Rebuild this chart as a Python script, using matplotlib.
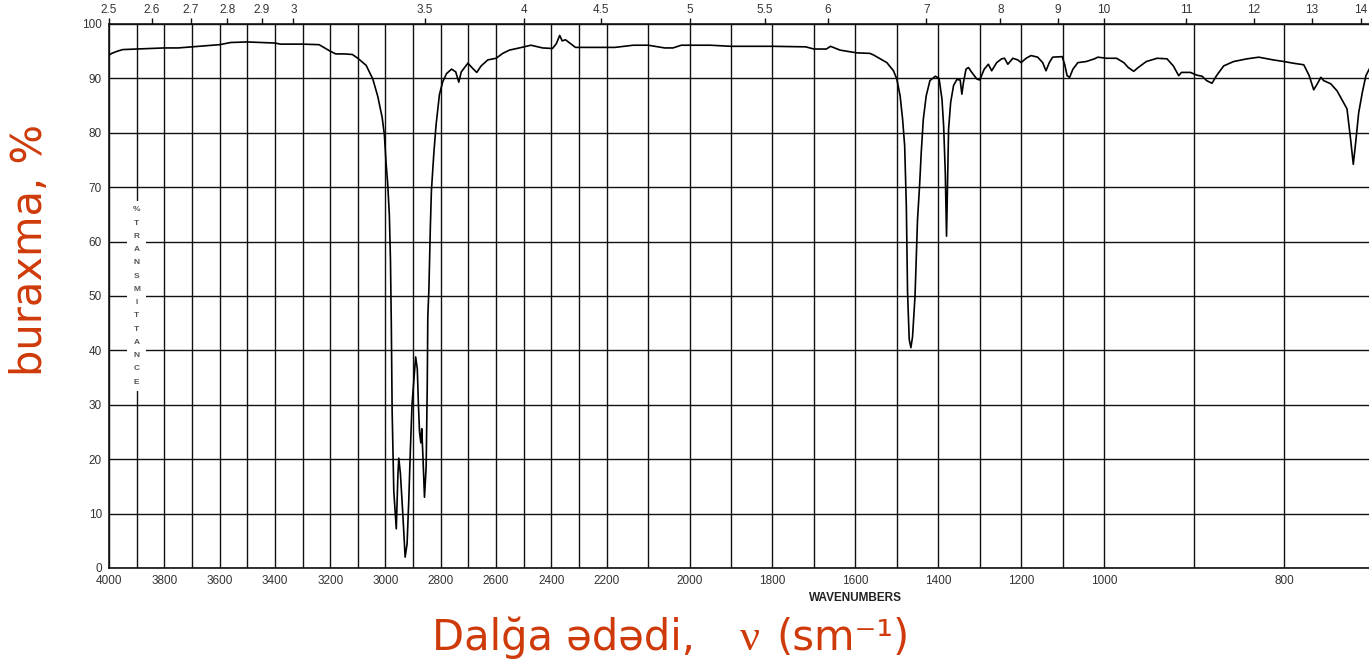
import numpy as np
import matplotlib.pyplot as plt

# spectrum (wavenumber cm-1, % transmittance)
wavenumber = [4000, 3990, 3970, 3950, 3900, 3850, 3800, 3750, 3700, 3650, 3600, 3560,
              3500, 3450, 3400, 3380, 3300, 3240, 3220, 3200, 3180, 3150, 3120, 3100,
              3070, 3046, 3028, 3012, 3004, 2998, 2992, 2986, 2982, 2979, 2976, 2970,
              2961, 2955, 2952, 2946, 2937, 2929, 2922, 2916, 2910, 2904, 2899, 2891,
              2885, 2881, 2877, 2872, 2869, 2865, 2859, 2853, 2849, 2847, 2843, 2838,
              2834, 2825, 2817, 2805, 2793, 2779, 2761, 2746, 2735, 2726, 2702, 2684,
              2670, 2654, 2630, 2600, 2576, 2552, 2516, 2474, 2432, 2396, 2382, 2370,
              2361, 2349, 2331, 2313, 2250, 2180, 2136, 2100, 2060, 2040, 2020, 1950,
              1900, 1800, 1720, 1700, 1670, 1660, 1637, 1597, 1565, 1556, 1540, 1524,
              1508, 1500, 1492, 1486, 1481, 1477, 1474, 1470, 1466, 1462, 1456, 1453,
              1450, 1445, 1441, 1436, 1429, 1420, 1407, 1398, 1391, 1387, 1383, 1380,
              1378, 1375, 1370, 1363, 1355, 1347, 1343, 1339, 1333, 1327, 1319, 1307,
              1300, 1289, 1279, 1271, 1259, 1247, 1240, 1232, 1220, 1208, 1200, 1188,
              1176, 1160, 1148, 1140, 1132, 1124, 1101, 1095, 1089, 1083, 1075, 1063,
              1043, 1023, 1015, 997, 986, 978, 973, 967, 962, 953, 941, 930,
              923, 917, 914, 904, 897, 891, 886, 880, 875, 867, 856, 841,
              828, 812, 800, 790, 778, 772, 767, 763, 759, 756, 748, 741,
              733, 730, 726, 723, 720, 717, 713, 709, 705]
transmittance = [94.3, 94.6, 95.0, 95.3, 95.4, 95.5, 95.6, 95.6, 95.8, 96.0, 96.2, 96.6,
                 96.7, 96.6, 96.5, 96.3, 96.3, 96.2, 95.6, 95.0, 94.5, 94.5, 94.4, 93.7,
                 92.4, 89.9, 86.7, 82.8, 79.6, 74.5, 70.6, 64.8, 56.5, 44.9, 28.9, 14.1,
                 7.2, 17.3, 20.2, 17.3, 9.6, 2.0, 4.4, 12.2, 21.8, 30.1, 33.4, 38.8,
                 36.6, 30.1, 25.0, 23.0, 25.6, 21.0, 13.0, 18.6, 33.4, 46.2, 51.3, 62.3,
                 69.3, 76.4, 81.5, 87.0, 89.4, 90.9, 91.7, 91.2, 89.3, 91.2, 92.8, 91.8,
                 91.1, 92.3, 93.4, 93.7, 94.6, 95.2, 95.6, 96.1, 95.6, 95.5, 96.4, 97.9,
                 96.9, 97.1, 96.4, 95.7, 95.7, 95.7, 96.1, 96.1, 95.6, 95.6, 96.1, 96.1,
                 95.9, 95.9, 95.8, 95.4, 95.4, 95.9, 95.2, 94.7, 94.6, 94.3, 93.6, 92.9,
                 91.4, 89.9, 86.8, 82.5, 77.6, 66.6, 50.6, 42.0, 40.5, 42.5, 50.0, 56.8,
                 64.0, 70.3, 76.4, 82.5, 86.8, 89.6, 90.4, 90.0, 86.2, 81.3, 72.7, 61.0,
                 69.0, 80.7, 85.6, 88.7, 89.8, 89.7, 87.1, 89.3, 91.7, 92.0, 91.1, 89.9,
                 89.7, 91.7, 92.6, 91.4, 92.9, 93.6, 93.7, 92.6, 93.7, 93.4, 92.9, 93.7,
                 94.2, 93.9, 92.9, 91.4, 92.9, 93.9, 94.0, 92.6, 90.5, 90.2, 91.7, 92.9,
                 93.1, 93.6, 93.9, 93.7, 93.7, 92.9, 92.0, 91.3, 92.0, 93.1, 93.7, 93.6,
                 92.3, 90.5, 91.1, 91.1, 90.6, 90.4, 89.6, 89.1, 90.5, 92.3, 93.1, 93.6,
                 93.9, 93.4, 93.1, 92.8, 92.5, 90.5, 87.9, 89.0, 90.2, 89.6, 89.0, 87.7,
                 85.3, 84.4, 78.8, 74.2, 78.8, 83.7, 87.4, 90.5, 91.8]

bottom_labels = [4000, 3800, 3600, 3400, 3200, 3000, 2800, 2600, 2400, 2200,
                 2000, 1800, 1600, 1400, 1200, 1000, 800]
grid_wn = list(range(3900, 2100, -100)) + list(range(2100, 900, -100)) + [900]
top_microns = [2.5, 2.6, 2.7, 2.8, 2.9, 3, 3.5, 4, 4.5, 5, 5.5, 6, 7, 8, 9, 10, 11, 12, 13, 14]
y_ticks = list(range(0, 101, 10))

# the printed chart has a broken wavenumber axis (expanded below 2200 and 1000)
knot_wn = np.array([5000, 4000, 2200, 1000, 800, 0])
knot_pos = np.array([-276.5, 0.0, 497.7, 995.0, 1175.0, 1895.0])

def fwd(w):
    return -np.interp(-np.asarray(w, float), -knot_wn, knot_pos)

def inv(p):
    return np.interp(-np.asarray(p, float), knot_pos, knot_wn)

x_right = float(np.interp(1260.0, knot_pos, knot_wn))

red = '#CF3A0A'
tick_font = {'family': 'Liberation Sans', 'size': 8.5, 'color': '#333333'}

fig = plt.figure(figsize=(13.69, 6.59), dpi=100)
ax = fig.add_axes([109 / 1369, 91 / 659, 1260 / 1369, 544 / 659])
ax.set_xscale('function', functions=(fwd, inv))
ax.set_xlim(4000, x_right)
ax.set_ylim(0, 100)

ax.set_xticks(bottom_labels)
ax.set_xticks(grid_wn, minor=True)
ax.set_xticklabels([str(v) for v in bottom_labels], fontdict=tick_font)
ax.set_yticks(y_ticks)
ax.set_yticklabels([str(v) for v in y_ticks], fontdict=tick_font)
ax.tick_params(axis='both', which='both', length=0)
ax.tick_params(axis='x', pad=5)
ax.tick_params(axis='y', pad=5)
ax.grid(True, which='both', color='#111111', linewidth=1.0)
ax.set_axisbelow(True)
ax.spines['right'].set_visible(False)
for s in ['left', 'top', 'bottom']:
    ax.spines[s].set_color('#111111')
    ax.spines[s].set_linewidth(1.2)

ax.plot(wavenumber, transmittance, color='black', linewidth=1.2, zorder=3)

ax.text(3900, 50, '\n'.join('%TRANSMITTANCE'), ha='center', va='center',
        fontsize=6, fontweight='bold', color='#555555', family='Liberation Sans',
        linespacing=2.25, zorder=4,
        bbox=dict(facecolor='white', edgecolor='none', pad=4))

# micrometre scale along the top
ax2 = ax.twiny()
ax2.set_xscale('function', functions=(fwd, inv))
ax2.set_xlim(4000, x_right)
ax2.set_xticks([10000 / m for m in top_microns])
ax2.set_xticklabels([f'{m:g}' for m in top_microns], fontdict=tick_font)
ax2.tick_params(axis='x', direction='out', length=4, width=1, pad=2, color='#111111')
for s in ax2.spines.values():
    s.set_visible(False)
ax2.patch.set_visible(False)

fig.text(855 / 1369, 1 - 598 / 659, 'WAVENUMBERS', ha='center', va='center',
         fontsize=8.5, fontweight='bold', family='Liberation Sans', color='#222222')

fig.text(30 / 1369, 1 - 250 / 659, 'buraxma, %', rotation=90, ha='center', va='center',
         fontsize=30, color=red, family='DejaVu Sans')
fig.text(432 / 1369, 1 - 650 / 659, 'Dalğa ədədi,', ha='left', va='baseline',
         fontsize=30, color=red, family='DejaVu Sans')
fig.text(750 / 1369, 1 - 650 / 659, 'ν', ha='center', va='baseline',
         fontsize=32, color=red, family='Liberation Serif')
fig.text(776 / 1369, 1 - 650 / 659, '(sm⁻¹)', ha='left', va='baseline',
         fontsize=30, color=red, family='DejaVu Sans')

fig.savefig('out.png', dpi=100)
